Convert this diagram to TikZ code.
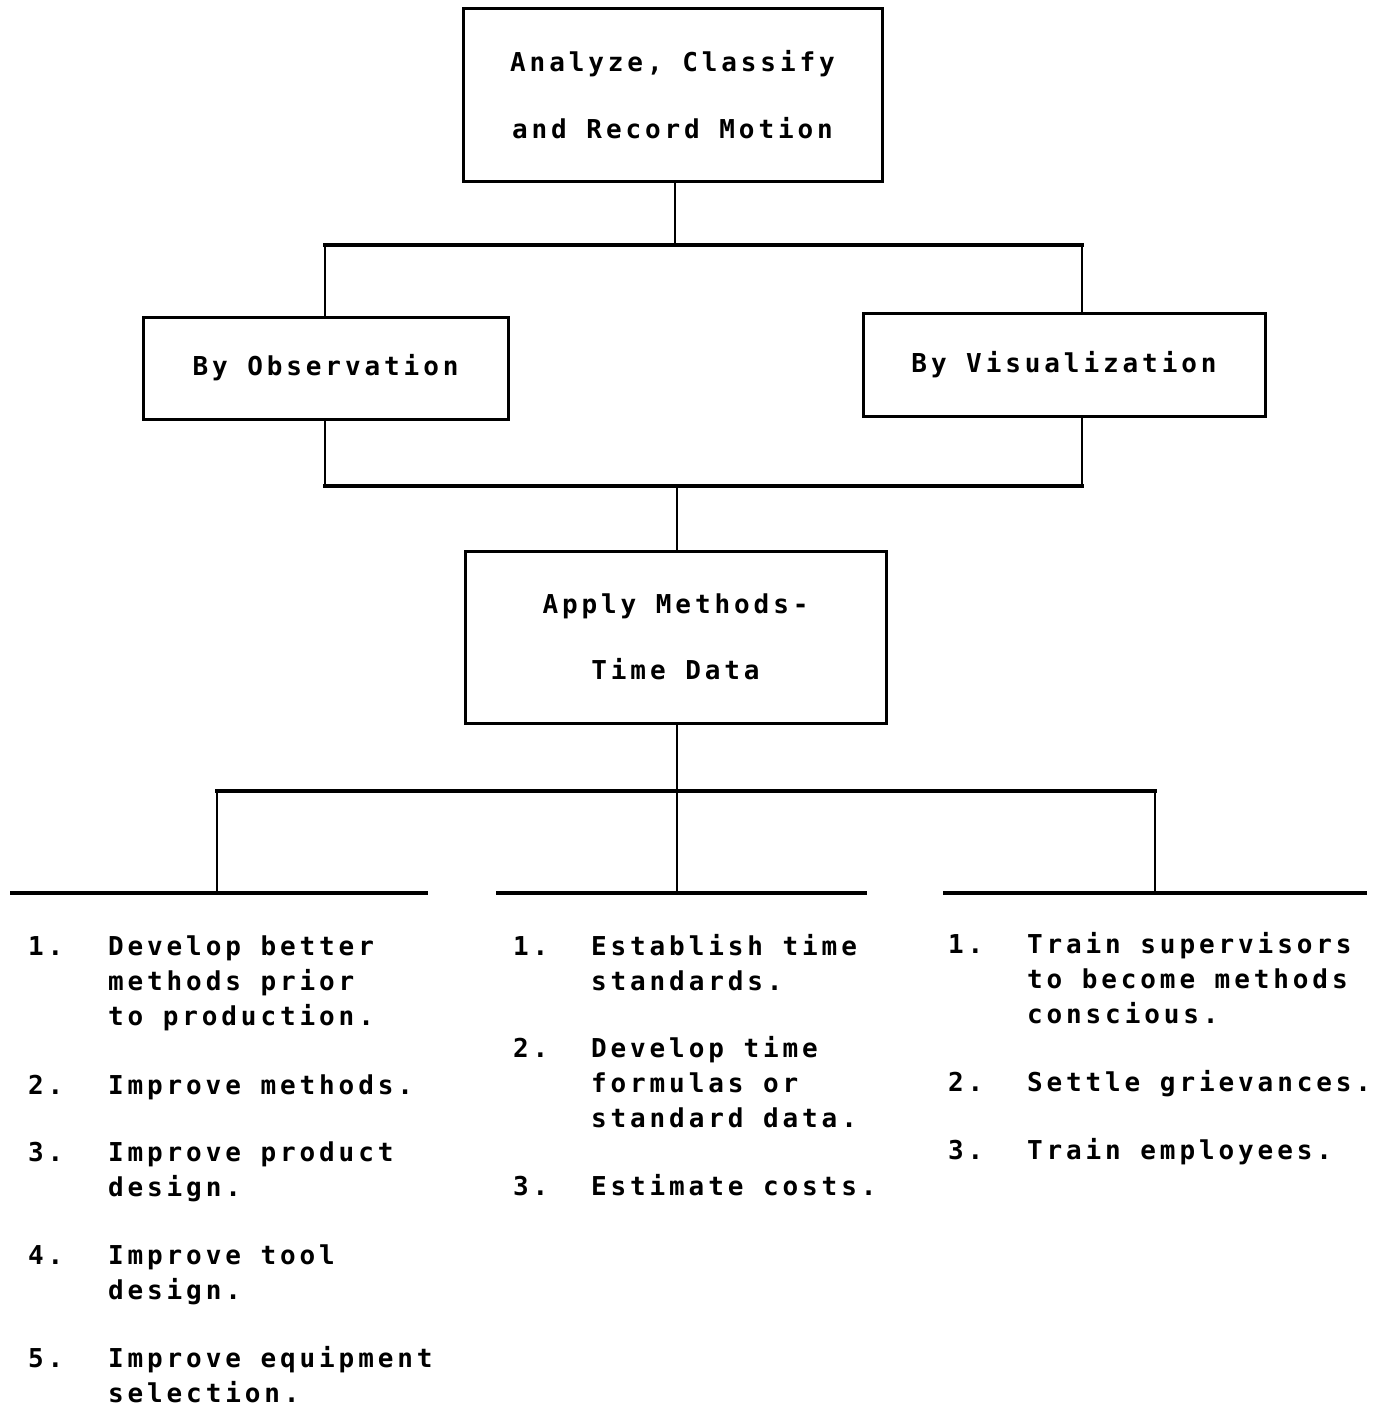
\documentclass[tikz,border=0pt]{standalone}
\usepackage{fontspec}
\newfontfamily\monof[LetterSpace=15]{DejaVu Sans Mono}
\begin{document}
\begin{tikzpicture}[x=1pt,y=-1pt,
  every node/.style={inner sep=0pt, outer sep=0pt, font=\monof\bfseries\fontsize{26}{35}\selectfont},
  box/.style={draw, line width=3pt, rectangle, align=center},
  txt/.style={anchor=base west},
  conn/.style={line width=2.2pt},
  hconn/.style={line width=3.5pt, line cap=rect},
  rule/.style={line width=3.5pt}]
\useasboundingbox (0,0) rectangle (1388,1406);
% boxes
\node[box, minimum width=419pt, minimum height=173pt, font=\monof\bfseries\fontsize{26}{67}\selectfont] (top) at (672.5,94.5) {Analyze, Classify\\and Record Motion};
\node[box, minimum width=365pt, minimum height=102pt] (obs) at (325.5,368) {By Observation};
\node[box, minimum width=402pt, minimum height=103pt] (vis) at (1064,364.5) {By Visualization};
\node[box, minimum width=421pt, minimum height=172pt, font=\monof\bfseries\fontsize{26}{66}\selectfont] (app) at (675.5,637) {Apply Methods-\\Time Data};
% junctions
\coordinate (j1) at (675,245);
\coordinate (ol) at (325,245);
\coordinate (vt) at (1082,313);
\coordinate (vr) at (1082,245);
\coordinate (vb) at (1082,416);
\coordinate (j2) at (677,486);
\coordinate (ob) at (325,486);
\coordinate (vbb) at (1082,486);
\coordinate (j3) at (677,791);
\coordinate (lj) at (217,791); \coordinate (rj) at (1155,791);
\coordinate (ua) at (10,893);  \coordinate (ub) at (428,893);
\coordinate (ma) at (496,893); \coordinate (mb) at (867,893);
\coordinate (ra) at (943,893); \coordinate (rb) at (1367,893);
\coordinate (lc) at (217,893); \coordinate (mc) at (677,893); \coordinate (rc) at (1155,893);
% connectors
\draw[conn] (j1 |- top.south) -- (j1);
\draw[hconn] (ol) -- (vr);
\draw[conn] (ol) -- (obs.north -| ol);
\draw[conn] (vr) -- (vt);
\draw[conn] (obs.south -| ob) -- (ob);
\draw[conn] (vb) -- (vbb);
\draw[hconn] (ob) -- (vbb);
\draw[conn] (j2) -- (app.north -| j2);
\draw[conn] (app.south -| j3) -- (j3);
\draw[hconn] (lj) -- (rj);
\draw[conn] (lj) -- (lc);
\draw[conn] (j3) -- (mc);
\draw[conn] (rj) -- (rc);
\draw[rule] (ua) -- (ub);
\draw[rule] (ma) -- (mb);
\draw[rule] (ra) -- (rb);
% left list
\node[txt] (l1n) at (28,955) {1.};
\node[txt] (l1t) at (108,955) {\begin{tabular}[t]{@{}l@{}}Develop better\\methods prior\\to production.\end{tabular}};
\node[txt] (l2n) at (28,1094) {2.};
\node[txt] (l2t) at (108,1094) {Improve methods.};
\node[txt] (l3n) at (28,1161) {3.};
\node[txt] (l3t) at (108,1161) {\begin{tabular}[t]{@{}l@{}}Improve product\\design.\end{tabular}};
\node[txt] (l4n) at (28,1264) {4.};
\node[txt] (l4t) at (108,1264) {\begin{tabular}[t]{@{}l@{}}Improve tool\\design.\end{tabular}};
\node[txt] (l5n) at (28,1367) {5.};
\node[txt] (l5t) at (108,1367) {\begin{tabular}[t]{@{}l@{}}Improve equipment\\selection.\end{tabular}};
% middle list
\node[txt] (m1n) at (513,955) {1.};
\node[txt] (m1t) at (591,955) {\begin{tabular}[t]{@{}l@{}}Establish time\\standards.\end{tabular}};
\node[txt] (m2n) at (513,1057) {2.};
\node[txt] (m2t) at (591,1057) {\begin{tabular}[t]{@{}l@{}}Develop time\\formulas or\\standard data.\end{tabular}};
\node[txt] (m3n) at (513,1195) {3.};
\node[txt] (m3t) at (591,1195) {Estimate costs.};
% right list
\node[txt] (r1n) at (948,953) {1.};
\node[txt] (r1t) at (1027,953) {\begin{tabular}[t]{@{}l@{}}Train supervisors\\to become methods\\conscious.\end{tabular}};
\node[txt] (r2n) at (948,1091) {2.};
\node[txt] (r2t) at (1027,1091) {Settle grievances.};
\node[txt] (r3n) at (948,1159) {3.};
\node[txt] (r3t) at (1027,1159) {Train employees.};
\end{tikzpicture}
\end{document}
